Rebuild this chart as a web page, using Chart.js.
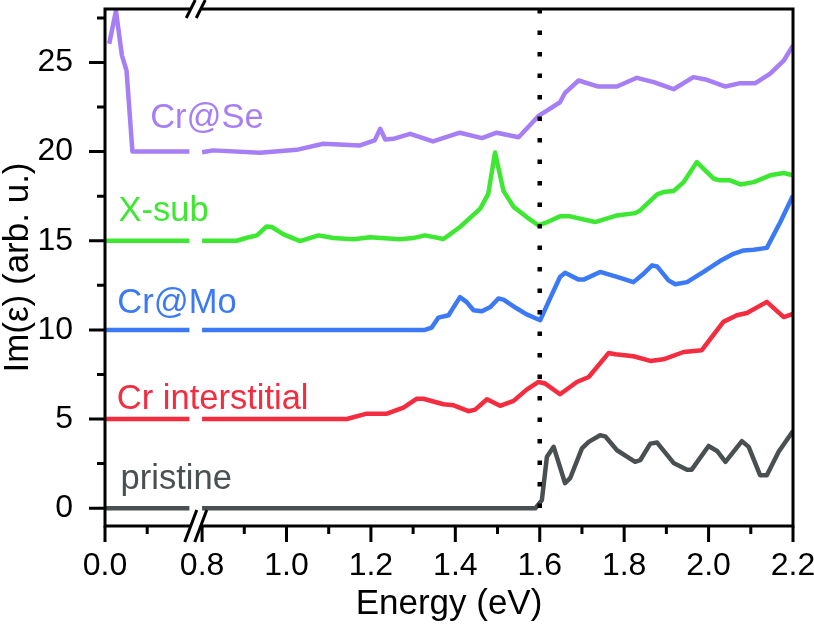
<!DOCTYPE html>
<html>
<head>
<meta charset="utf-8">
<script src="https://cdn.jsdelivr.net/npm/chart.js@4.4.1/dist/chart.umd.min.js"></script>
<style>
  html, body { margin: 0; padding: 0; background: #fff; }
</style>
</head>
<body>
<canvas id="chart" width="814" height="632"></canvas>
<script>
// the energy axis is cut between 0.2 and 0.8 eV
const breakLow = 0.2;
const breakHigh = 0.8;
const breakGap = 0.03;
const toD = (e) => (e <= breakLow ? e : e - (breakHigh - breakLow) + breakGap);

const xTickValues = [0.0, 0.8, 1.0, 1.2, 1.4, 1.6, 1.8, 2.0, 2.2];
const xTickLabels = ["0.0", "0.8", "1.0", "1.2", "1.4", "1.6", "1.8", "2.0", "2.2"];
const xMinorValues = [0.1, 0.9, 1.1, 1.3, 1.5, 1.7, 1.9, 2.1];
const yTickValues = [0, 5, 10, 15, 20, 25];
const yMinorValues = [2.5, 7.5, 12.5, 17.5, 22.5, 27.5];
const bandGapE = [1.6];

const seriesNames = ["pristine", "Cr interstitial", "Cr@Mo", "X-sub", "Cr@Se"];
const seriesColors = ["#4a5052", "#f42c3f", "#3b79f5", "#3ee832", "#a67ff5"];

// low-energy part (left of the break)
const pristineLowE = [0.0, 0.2];
const pristineLowV = [0, 0];
const interstitialLowE = [0.0, 0.2];
const interstitialLowV = [5, 5];
const crMoLowE = [0.0, 0.2];
const crMoLowV = [10, 10];
const xSubLowE = [0.0, 0.2];
const xSubLowV = [15, 15];
const crSeLowE = [0.01, 0.026, 0.04, 0.051, 0.065, 0.2];
const crSeLowV = [26.05, 27.9, 25.4, 24.55, 20.0, 20.0];

// part right of the break
const pristineE = [0.8, 1.59, 1.605, 1.617, 1.633, 1.66, 1.672, 1.7, 1.716, 1.743, 1.755, 1.783, 1.826, 1.838, 1.862, 1.878, 1.917, 1.949, 1.96, 2.0, 2.02, 2.04, 2.079, 2.095, 2.122, 2.138, 2.166, 2.2];
const pristineV = [0, 0, 0.45, 2.88, 3.44, 1.4, 1.68, 3.35, 3.72, 4.09, 4.03, 3.25, 2.6, 2.69, 3.62, 3.68, 2.54, 2.16, 2.16, 3.49, 3.21, 2.6, 3.76, 3.44, 1.85, 1.85, 3.16, 4.33];

const interstitialE = [0.8, 1.143, 1.19, 1.238, 1.277, 1.309, 1.324, 1.372, 1.396, 1.431, 1.447, 1.475, 1.506, 1.538, 1.569, 1.597, 1.613, 1.648, 1.688, 1.716, 1.763, 1.779, 1.822, 1.862, 1.893, 1.941, 1.984, 2.035, 2.067, 2.091, 2.138, 2.178, 2.2];
const interstitialV = [5, 5, 5.3, 5.3, 5.64, 6.14, 6.14, 5.83, 5.77, 5.44, 5.53, 6.11, 5.74, 6.02, 6.65, 7.08, 6.99, 6.39, 7.08, 7.36, 8.7, 8.63, 8.52, 8.26, 8.35, 8.76, 8.86, 10.45, 10.82, 10.95, 11.57, 10.72, 10.9];

const crMoE = [0.8, 1.328, 1.344, 1.36, 1.384, 1.396, 1.411, 1.427, 1.443, 1.463, 1.483, 1.502, 1.514, 1.546, 1.569, 1.601, 1.625, 1.648, 1.66, 1.692, 1.704, 1.743, 1.783, 1.822, 1.846, 1.866, 1.878, 1.905, 1.921, 1.949, 1.988, 2.027, 2.059, 2.083, 2.107, 2.138, 2.17, 2.2];
const crMoV = [10, 10, 10.13, 10.69, 10.82, 11.28, 11.84, 11.56, 11.1, 11.04, 11.28, 11.76, 11.7, 11.2, 10.87, 10.54, 11.8, 12.97, 13.2, 12.82, 12.82, 13.25, 12.97, 12.68, 13.15, 13.62, 13.56, 12.78, 12.56, 12.68, 13.25, 13.86, 14.27, 14.46, 14.5, 14.6, 16.05, 17.54];

const xSubE = [0.8, 0.882, 0.906, 0.93, 0.953, 0.965, 0.993, 1.032, 1.076, 1.111, 1.159, 1.198, 1.269, 1.3, 1.328, 1.372, 1.411, 1.459, 1.478, 1.494, 1.514, 1.538, 1.569, 1.597, 1.613, 1.648, 1.672, 1.731, 1.783, 1.826, 1.838, 1.878, 1.893, 1.917, 1.941, 1.972, 2.012, 2.027, 2.051, 2.075, 2.107, 2.146, 2.178, 2.2];
const xSubV = [15, 15, 15.17, 15.3, 15.8, 15.77, 15.36, 14.98, 15.3, 15.15, 15.08, 15.2, 15.08, 15.15, 15.3, 15.1, 15.77, 16.8, 17.63, 19.95, 17.8, 16.9, 16.33, 15.86, 16.0, 16.37, 16.37, 16.05, 16.42, 16.55, 16.7, 17.6, 17.73, 17.79, 18.29, 19.41, 18.48, 18.39, 18.39, 18.16, 18.29, 18.67, 18.8, 18.67];

const crSeE = [0.8, 0.826, 0.937, 1.024, 1.087, 1.174, 1.209, 1.222, 1.234, 1.253, 1.293, 1.347, 1.411, 1.463, 1.498, 1.55, 1.597, 1.617, 1.648, 1.66, 1.692, 1.739, 1.783, 1.83, 1.87, 1.917, 1.964, 1.996, 2.04, 2.075, 2.111, 2.146, 2.178, 2.2];
const crSeV = [19.97, 20.07, 19.94, 20.1, 20.44, 20.35, 20.63, 21.28, 20.68, 20.72, 21.0, 20.57, 21.06, 20.76, 21.06, 20.81, 22.0, 22.3, 22.77, 23.3, 23.99, 23.65, 23.65, 24.14, 23.9, 23.5, 24.18, 24.03, 23.65, 23.84, 23.84, 24.37, 25.1, 25.95];

const lowE = [pristineLowE, interstitialLowE, crMoLowE, xSubLowE, crSeLowE];
const lowV = [pristineLowV, interstitialLowV, crMoLowV, xSubLowV, crSeLowV];
const highE = [pristineE, interstitialE, crMoE, xSubE, crSeE];
const highV = [pristineV, interstitialV, crMoV, xSubV, crSeV];

const FONT = "'Liberation Sans', Arial, Helvetica, sans-serif";

const buildPoints = (i) => {
  const pts = lowE[i].map((e, k) => ({ x: toD(e), y: lowV[i][k] }));
  pts.push({ x: (toD(breakLow) + toD(breakHigh)) / 2, y: null });
  highE[i].forEach((e, k) => pts.push({ x: toD(e), y: highV[i][k] }));
  return pts;
};

const datasets = seriesNames.map((name, i) => ({
  label: name,
  data: buildPoints(i),
  borderColor: seriesColors[i],
  borderWidth: 4.5,
  pointRadius: 0,
  spanGaps: false,
  order: 1,
}));

datasets.push({
  label: "gap",
  data: [{ x: toD(bandGapE[0]), y: 28 }, { x: toD(bandGapE[0]), y: -1 }],
  borderColor: "#000",
  borderWidth: 4.5,
  borderDash: [4.5, 17],
  borderCapStyle: "butt",
  pointRadius: 0,
  order: 0,
});

// frame with break marks, minor/major ticks and the series names
const framePlugin = {
  id: "frame",
  afterDatasetsDraw(chart) {
    const { ctx, chartArea: a, scales } = chart;
    const xs = scales.x, ys = scales.y;
    const xa = (xs.getPixelForValue(toD(breakLow)) + xs.getPixelForValue(toD(breakHigh))) / 2 - 5;
    const xb = xa + 10;
    ctx.save();
    ctx.strokeStyle = "#000";
    ctx.lineWidth = 3;
    ctx.lineCap = "butt";
    ctx.beginPath();
    ctx.moveTo(a.left, a.top - 1.5); ctx.lineTo(a.left, a.bottom + 1.5);
    ctx.moveTo(a.right, a.top - 1.5); ctx.lineTo(a.right, a.bottom + 1.5);
    [a.top, a.bottom].forEach((y) => {
      ctx.moveTo(a.left, y); ctx.lineTo(xa, y);
      ctx.moveTo(xb, y); ctx.lineTo(a.right, y);
    });
    ctx.stroke();

    // break marks
    ctx.beginPath();
    [xa, xb].forEach((x) => {
      ctx.moveTo(x - 6, a.bottom + 16); ctx.lineTo(x + 6, a.bottom - 16);
      ctx.moveTo(x - 4.5, a.top + 9); ctx.lineTo(x + 4.5, a.top - 9);
    });
    ctx.stroke();

    // ticks
    ctx.beginPath();
    xTickValues.forEach((e) => {
      const x = xs.getPixelForValue(toD(e));
      ctx.moveTo(x, a.bottom); ctx.lineTo(x, a.bottom + 16);
    });
    xMinorValues.forEach((e) => {
      const x = xs.getPixelForValue(toD(e));
      ctx.moveTo(x, a.bottom); ctx.lineTo(x, a.bottom + 8);
    });
    yTickValues.forEach((v) => {
      const y = ys.getPixelForValue(v);
      ctx.moveTo(a.left, y); ctx.lineTo(a.left - 16, y);
    });
    yMinorValues.forEach((v) => {
      const y = ys.getPixelForValue(v);
      ctx.moveTo(a.left, y); ctx.lineTo(a.left - 8, y);
    });
    ctx.stroke();

    // series names
    const names = chart.options.plugins.frame.names;
    ctx.font = "34.5px " + FONT;
    ctx.textAlign = "left";
    ctx.textBaseline = "alphabetic";
    names.forEach((n, i) => {
      ctx.fillStyle = seriesColors[i];
      ctx.fillText(seriesNames[i], xs.getPixelForValue(toD(n.e)), ys.getPixelForValue(n.v));
    });
    ctx.restore();
  },
};

new Chart(document.getElementById("chart"), {
  type: "line",
  data: { datasets },
  plugins: [framePlugin],
  options: {
    responsive: false,
    animation: false,
    devicePixelRatio: 1,
    layout: { padding: { top: 9, right: 21, left: 0, bottom: 0 } },
    elements: { line: { tension: 0, borderJoinStyle: "round" } },
    plugins: {
      legend: { display: false },
      tooltip: { enabled: false },
      frame: {
        names: [
          { e: 0.037, v: 1.05 },
          { e: 0.028, v: 5.55 },
          { e: 0.029, v: 10.95 },
          { e: 0.032, v: 16.1 },
          { e: 0.107, v: 21.3 },
        ],
      },
    },
    scales: {
      x: {
        type: "linear",
        min: 0,
        max: toD(2.2),
        grid: { display: false, drawTicks: false },
        border: { display: false },
        afterBuildTicks: (s) => { s.ticks = xTickValues.map((e) => ({ value: toD(e) })); },
        afterFit: (s) => { s.height = 106; s.paddingLeft = 0; s.paddingRight = 0; },
        ticks: {
          padding: 21,
          autoSkip: false,
          maxRotation: 0,
          color: "#000",
          font: { family: FONT, size: 32 },
          callback: (v, i) => xTickLabels[i],
        },
        title: {
          display: true,
          text: "Energy (eV)",
          color: "#000",
          font: { family: FONT, size: 35, lineHeight: 1 },
          padding: { top: 0, bottom: 10 },
        },
      },
      y: {
        type: "linear",
        min: -1,
        max: 28,
        grid: { display: false, drawTicks: false },
        border: { display: false },
        afterBuildTicks: (s) => { s.ticks = yTickValues.map((v) => ({ value: v })); },
        afterFit: (s) => { s.width = 105; s.paddingTop = 0; s.paddingBottom = 0; },
        ticks: {
          padding: 32,
          color: "#000",
          font: { family: FONT, size: 32 },
        },
        title: {
          display: true,
          text: "Im(ε) (arb. u.)",
          color: "#000",
          font: { family: FONT, size: 35, lineHeight: 1 },
          padding: { top: 1, bottom: 0 },
        },
      },
    },
  },
});
</script>
</body>
</html>
